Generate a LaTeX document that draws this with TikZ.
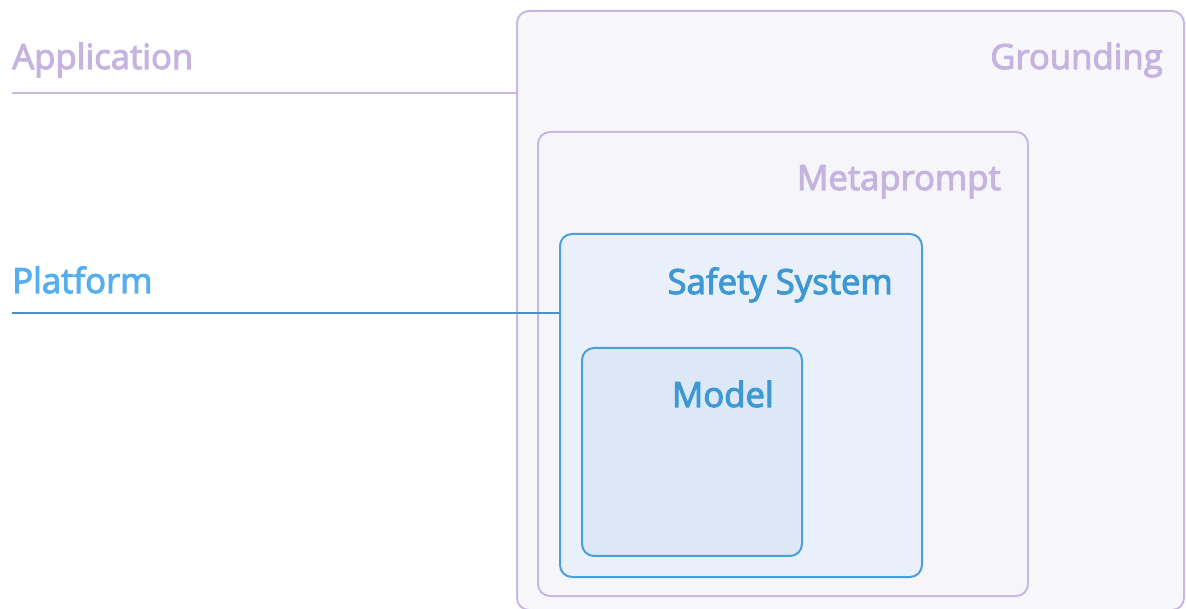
\documentclass[tikz,border=0pt]{standalone}
\usepackage{fontspec}
\setmainfont{Open Sans}
\newfontfamily\semib[FakeBold=3]{Open Sans}
\usetikzlibrary{fit}
\definecolor{lav}{HTML}{C8B8E1}
\definecolor{lavtext}{HTML}{C5B3E0}
\definecolor{gfill}{HTML}{F8F8FC}
\definecolor{mfill}{HTML}{F5F5FA}
\definecolor{sblue}{HTML}{4AA0D8}
\definecolor{stext}{HTML}{3D98D4}
\definecolor{ptext}{HTML}{55AEEF}
\definecolor{pline}{HTML}{4A92C4}
\definecolor{sfill}{HTML}{EAF0F9}
\definecolor{mdfill}{HTML}{DCE8F6}
\begin{document}
\begin{tikzpicture}[x=0.75pt,y=-0.75pt]
\tikzset{
  layerbox/.style={draw, rounded corners=9pt, line width=1.5pt, inner sep=0pt, outer sep=0pt},
  lavlabel/.style={font=\semib\fontsize{26}{30}\selectfont, text=lavtext, inner sep=0pt},
  bluelabel/.style={font=\semib\fontsize{26}{30}\selectfont, text=stext, inner sep=0pt},
  sideline/.style={line width=1pt}
}
\useasboundingbox (0,0) rectangle (1186,609);
\node[layerbox, draw=lav, fill=gfill, fit={(517,11) (1184,610)}] (ground) {};
\node[layerbox, draw=lav, fill=mfill, fit={(538,132) (1028,596)}] (meta) {};
\node[layerbox, draw=sblue, fill=sfill, fit={(560,234) (922,577)}] (safety) {};
\node[layerbox, draw=sblue, fill=mdfill, fit={(582,348) (802,556)}] (model) {};

\node[lavlabel, anchor=base east] (tground) at (1163,69) {Grounding};
\node[lavlabel, anchor=base east] (tmeta) at (1001,190) {Metaprompt};
\node[bluelabel, anchor=base east] (tsafety) at (893,294) {Safety System};
\node[bluelabel, anchor=base east] (tmodel) at (774,407) {Model};

\node[lavlabel, anchor=base west] (tapp) at (12,69) {Application};
\node[lavlabel, text=ptext, anchor=base west] (tplat) at (12,293) {Platform};

\coordinate (a0) at (12,93);
\coordinate (p0) at (12,313);
\draw[sideline, draw=lav] (a0) -- (ground.west |- a0);
\draw[sideline, draw=pline] (p0) -- (safety.west |- p0);
\end{tikzpicture}
\end{document}
